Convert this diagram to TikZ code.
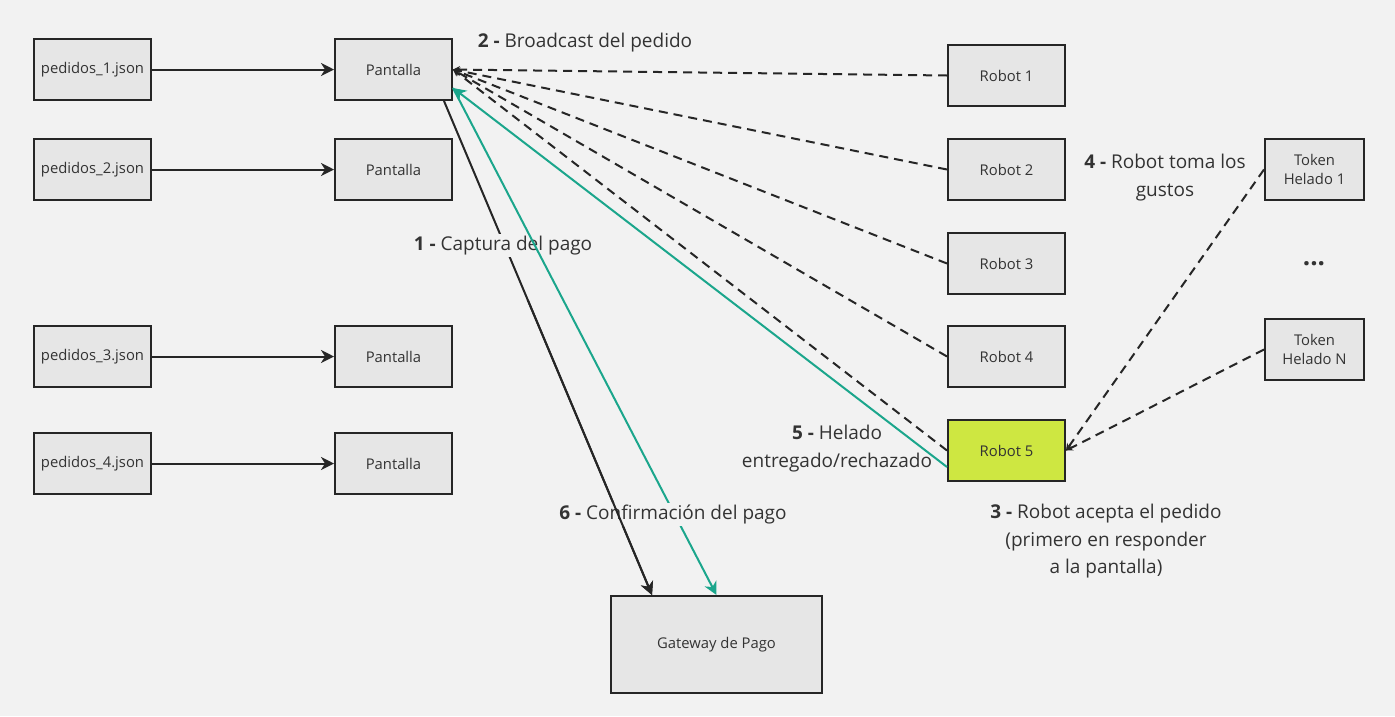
\documentclass[tikz,border=0pt]{standalone}
\usepackage{fontspec}
\setmainfont{Open Sans}
\usetikzlibrary{arrows.meta}
\definecolor{bg}{HTML}{F2F2F2}
\definecolor{boxfill}{HTML}{E6E6E6}
\definecolor{boxline}{HTML}{262626}
\definecolor{txt}{HTML}{333333}
\definecolor{limec}{HTML}{CEE741}
\definecolor{tealc}{HTML}{1BA68C}
\begin{document}
\begin{tikzpicture}[x=1pt,y=-1pt,
 box/.style={draw=boxline, line width=2pt, fill=boxfill, minimum width=117pt, minimum height=61pt, inner sep=0pt, font=\fontsize{14.8}{19}\selectfont, text=txt, align=center},
 lbl/.style={font=\fontsize{19}{27.5}\selectfont, text=txt, align=center, inner sep=2pt},
 solidarr/.style={line width=2pt, draw=black!85, -{Stealth[length=13pt,width=13pt,inset=4pt]}},
 dasharr/.style={line width=2pt, draw=boxline, dash pattern=on 9pt off 6pt, -{Stealth[length=7pt,width=7pt]}},
 greenarr/.style={line width=2pt, draw=tealc, -{Stealth[length=13pt,width=13pt,inset=4pt]}},
]
\fill[bg] (0,0) rectangle (1395,716);
\useasboundingbox (0,0) rectangle (1395,716);

% sources
\node[box] (p1) at (92.5,69.5) {pedidos\_1.json};
\node[box] (p2) at (92.5,169.5) {pedidos\_2.json};
\node[box] (p3) at (92.5,356.5) {pedidos\_3.json};
\node[box] (p4) at (92.5,463.5) {pedidos\_4.json};
% screens
\node[box] (s1) at (393.5,69.5) {Pantalla};
\node[box] (s2) at (393.5,169.5) {Pantalla};
\node[box] (s3) at (393.5,356.5) {Pantalla};
\node[box] (s4) at (393.5,463.5) {Pantalla};
% robots
\node[box] (r1) at (1006.5,75.5) {Robot 1};
\node[box] (r2) at (1006.5,169.5) {Robot 2};
\node[box] (r3) at (1006.5,263.5) {Robot 3};
\node[box] (r4) at (1006.5,356.5) {Robot 4};
\node[box, fill=limec] (r5) at (1006.5,450.5) {Robot 5};
% tokens
\node[box, minimum width=99pt] (t1) at (1314.5,169.5) {Token\\Helado 1};
\node[box, minimum width=99pt] (t2) at (1314.5,349.5) {Token\\Helado N};
\node[lbl, font=\fontsize{26}{26}\bfseries, inner sep=0pt] (dots) at (1314,264) {...};
% gateway
\node[box, minimum width=211pt, minimum height=97pt] (gw) at (716.5,644.5) {Gateway de Pago};

% anchor points
\coordinate (sb) at ([xshift=50.5pt]s1.south);
\coordinate (gb) at ([xshift=-64.5pt]gw.north);
\coordinate (gs) at ([yshift=-18.5pt]s1.east);
\coordinate (rg) at ([yshift=-16.5pt]r5.west);

% source -> screen
\draw[solidarr] (p1) -- (s1);
\draw[solidarr] (p2) -- (s2);
\draw[solidarr] (p3) -- (s3);
\draw[solidarr] (p4) -- (s4);

% broadcast
\draw[dasharr] (r1.west) -- (s1.east);
\draw[dasharr] (r2.west) -- (s1.east);
\draw[dasharr] (r3.west) -- (s1.east);
\draw[dasharr] (r4.west) -- (s1.east);
\draw[dasharr] (r5.west) -- (s1.east);

% tokens -> robot 5
\draw[dasharr] (t1.west) -- (r5.east);
\draw[dasharr] (t2.west) -- (r5.east);

% payment capture
\draw[solidarr] (sb) -- (gb);
\node[lbl, fill=bg] (l1) at (503,245.5) {\textbf{1 -} Captura del pago};

% green
\draw[greenarr] (rg) -- (gs);
\draw[greenarr] (gs) -- (gw.north);
\node[lbl, fill=bg] (l6) at (673,514.5) {\textbf{6 -} Confirmación del pago};
\begin{scope}
\clip (0,300) rectangle (1395,716);
\draw[solidarr] (sb) -- (gb);
\end{scope}

% labels
\node[lbl] (l2) at (585,42.5) {\textbf{2 -} Broadcast del pedido};
\node[lbl] (l4) at (1165,177.5) {\textbf{4 -} Robot toma los\\gustos};
\node[lbl] (l5) at (837,448.5) {\textbf{5 -} Helado\\entregado/rechazado};
\node[lbl] (l3) at (1106,541.5) {\textbf{3 -} Robot acepta el pedido\\(primero en responder\\a la pantalla)};
\end{tikzpicture}
\end{document}
